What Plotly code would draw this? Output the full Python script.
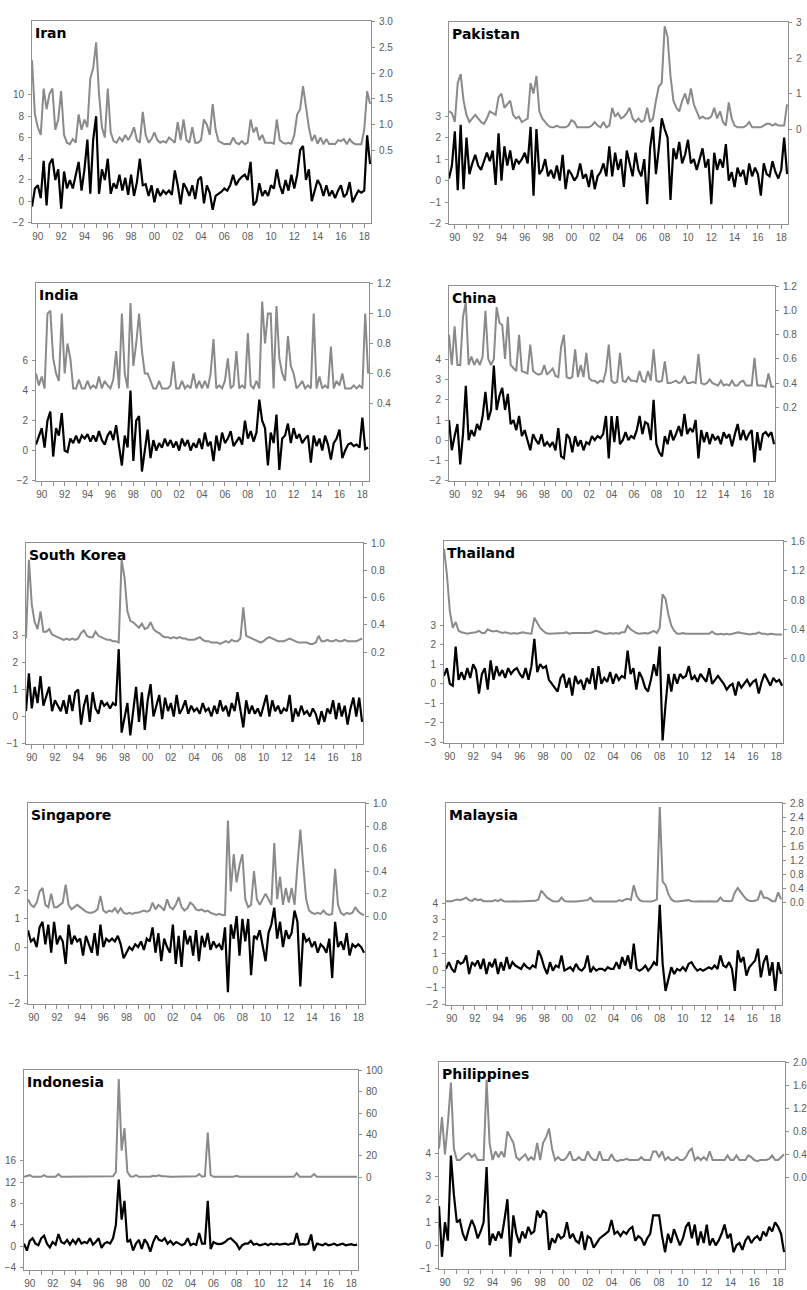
import plotly.graph_objects as go

W, H = 807, 1290
START_YEAR = 1989.5   # first observation
STEP = 0.25           # quarterly sampling

# ---------------- data (upper = grey, right axis; lower = black, left axis) ----------------
iran_upper = [2.25, 1.2,
 0.95, 0.8, 1.7, 1.3, 1.6, 1.7, 0.9, 1.1,
 1.65, 0.8, 0.65, 0.62, 0.72, 0.65, 1.2, 0.9,
 1.1, 0.95, 1.9, 2.1, 2.6, 1.6, 0.95, 0.75,
 1.7, 0.85, 0.68, 0.65, 0.75, 0.68, 0.8, 0.7,
 0.8, 0.95, 0.7, 0.65, 1.25, 0.8, 0.65, 0.72,
 0.85, 0.7, 0.65, 0.68, 0.65, 0.75, 0.7, 0.65,
 1.05, 0.7, 1.1, 0.7, 0.65, 0.95, 0.65, 0.65,
 0.7, 1.1, 1.0, 0.8, 1.4, 0.9, 0.68, 0.65,
 0.62, 0.63, 0.62, 0.75, 0.65, 0.62, 0.68, 0.62,
 0.65, 1.1, 0.85, 0.95, 0.7, 0.8, 0.65, 0.65,
 0.65, 0.63, 1.1, 0.7, 0.65, 0.63, 0.65, 0.63,
 0.8, 1.2, 1.3, 1.75, 1.3, 0.95, 0.68, 0.8,
 0.63, 0.75, 0.62, 0.72, 0.62, 0.63, 0.62, 0.7,
 0.68, 0.72, 0.62, 0.72, 0.65, 0.62, 0.62, 0.62,
 0.9, 1.65, 1.4]
iran_lower = [-0.5, 1.2,
 1.5, 0.3, 3.8, -0.4, 3.5, 4.0, 2.0, 3.0,
 -0.7, 2.8, 1.2, 2.0, 1.2, 2.5, 3.7, 1.0,
 3.0, 5.8, 0.7, 5.8, 8.0, 0.7, 3.0, 2.0,
 4.0, 0.7, 1.7, 1.2, 2.5, 1.0, 2.2, 0.6,
 2.5, 0.5, 1.8, 4.0, 1.5, 1.6, 0.5, 1.5,
 -0.1, 1.2, 0.5, 1.0, 0.7, 1.0, 0.6, 2.9,
 1.5, -0.3, 1.7, 1.2, 0.5, 1.5, 0.2, 2.0,
 2.3, -0.2, 1.5, 0.8, -0.8, 0.5, 0.7, 0.9,
 1.2, 1.0, 1.5, 2.5, 1.5, 2.0, 2.3, 2.5,
 2.0, 3.7, -0.4, 0.0, 1.7, 0.5, 1.0, 0.5,
 1.5, 1.2, 3.0, 1.5, 0.7, 2.0, 1.0, 2.5,
 1.2, 2.5, 4.8, 5.2, 2.0, 3.0, 0.0, 1.0,
 2.0, 1.5, 0.5, 1.5, 0.5, 1.0, 0.3, 1.0,
 1.5, 0.4, 0.7, 1.8, -0.1, 0.5, 1.0, 0.8,
 1.0, 6.2, 3.5]

pak_upper = [0.5, 0.45,
 0.2, 1.3, 1.55, 0.8, 0.4, 0.2, 0.3, 0.4,
 0.3, 0.2, 0.15, 0.3, 0.5, 0.45, 0.4, 0.9,
 1.0, 0.6, 0.7, 0.8, 0.4, 0.3, 0.35, 0.2,
 0.25, 0.3, 1.3, 1.0, 1.5, 0.5, 0.3, 0.2,
 0.1, 0.05, 0.05, 0.1, 0.05, 0.05, 0.05, 0.1,
 0.25, 0.2, 0.05, 0.05, 0.05, 0.05, 0.05, 0.1,
 0.2, 0.1, 0.05, 0.2, 0.05, 0.1, 0.6, 0.35,
 0.45, 0.3, 0.35, 0.45, 0.6, 0.3, 0.2, 0.3,
 0.2, 0.25, 0.6, 0.2, 0.3, 0.8, 1.2, 1.3,
 2.9, 2.6, 1.5, 0.8, 0.6, 0.5, 0.8, 1.0,
 0.7, 1.15, 0.7, 0.5, 0.3, 0.35, 0.3, 0.3,
 0.35, 0.6, 0.3, 0.5, 0.2, 0.1, 0.75, 0.3,
 0.1, 0.05, 0.05, 0.05, 0.1, 0.2, 0.05, 0.05,
 0.05, 0.05, 0.1, 0.15, 0.15, 0.1, 0.15, 0.1,
 0.1, 0.1, 0.7]
pak_lower = [0.1, 0.7,
 2.3, -0.45, 2.6, -0.4, 2.0, 0.3, 0.8, 1.2,
 0.7, 0.5, 0.9, 1.3, 0.9, 1.4, -0.2, 2.2,
 0.0, 1.6, 0.7, 1.4, 0.5, 1.0, 0.8, 1.0,
 1.3, 0.8, 2.5, -0.7, 2.4, 0.3, 0.5, 1.0,
 0.2, 0.5, 0.1, 0.7, 0.0, 1.2, -0.4, 0.5,
 0.3, 0.0, 0.2, 0.8, 0.1, 0.3, -0.3, 0.5,
 -0.4, 0.2, 0.4, 0.8, 0.2, 1.6, 0.2, 1.3,
 0.5, 1.0, -0.3, 1.4, 0.8, 0.2, 1.3, 0.5,
 0.2, 1.0, -1.1, 1.5, 2.5, 0.3, 1.5, 2.9,
 2.4, 2.0, -0.9, 1.5, 1.0, 1.8, 0.8, 1.2,
 1.9, 0.8, 1.0, 0.5, 1.0, 1.5, 0.6, 1.0,
 -1.1, 1.3, 0.5, 1.0, 0.6, 1.7, 0.0, 0.4,
 -0.3, 0.6, 0.2, 0.5, -0.2, 0.8, 0.2, 0.6,
 0.3, -0.7, 0.8, 0.3, 0.2, 0.9, 0.4, 0.1,
 0.5, 2.0, 0.3]

india_upper = [0.6, 0.52,
 0.58, 0.5, 1.0, 1.02, 0.7, 0.6, 0.55, 1.0,
 0.6, 0.8, 0.7, 0.5, 0.5, 0.56, 0.5, 0.5,
 0.55, 0.5, 0.52, 0.5, 0.58, 0.5, 0.55, 0.52,
 0.5, 0.56, 0.75, 0.5, 1.0, 0.6, 0.5, 1.07,
 0.65, 0.8, 1.0, 0.75, 0.6, 0.6, 0.55, 0.5,
 0.5, 0.55, 0.5, 0.5, 0.5, 0.52, 0.68, 0.5,
 0.5, 0.55, 0.5, 0.52, 0.5, 0.6, 0.5, 0.55,
 0.5, 0.55, 0.5, 0.6, 0.83, 0.5, 0.52, 0.5,
 0.55, 0.7, 0.5, 0.52, 0.75, 0.5, 0.52, 0.5,
 0.87, 0.52, 0.5, 0.55, 0.5, 1.08, 0.8, 1.0,
 1.0, 0.5, 1.05, 0.7, 0.6, 0.55, 0.85, 0.65,
 0.6, 0.5, 0.52, 0.55, 0.5, 0.52, 0.5, 1.0,
 0.5, 0.58, 0.5, 0.52, 0.5, 0.78, 0.5, 0.55,
 0.52, 0.6, 0.5, 0.5, 0.5, 0.52, 0.5, 0.52,
 0.5, 1.0, 0.6]
india_lower = [0.4, 1.0,
 1.5, 0.2, 2.0, 2.6, -0.4, 1.5, 1.0, 2.5,
 0.0, -0.1, 0.8, 0.5, 1.0, 0.5, 1.0, 0.8,
 1.1, 0.6, 1.0, 0.6, 1.3, 0.7, 0.4, 1.0,
 1.3, 0.7, 1.7, 0.3, -1.0, 1.0, 0.2, 4.0,
 -0.7, 2.0, 2.3, -1.4, 0.2, 1.4, -0.5, 0.7,
 0.0, 0.5, 0.2, 0.8, 0.3, 0.7, 0.2, 0.6,
 0.0, 0.8, 0.3, 0.7, 0.0, 0.5, 0.2, 0.8,
 0.1, 1.2, 0.3, 0.6, -0.7, 1.0, 0.0, 1.2,
 0.5, 0.8, 1.3, 0.3, 0.6, 0.9, 0.4, 2.0,
 0.8, 1.3, 0.6, 1.2, 3.4, 2.0, 1.5, -1.0,
 1.2, 0.5, 2.4, -1.3, 0.8, 1.0, 1.8, 0.5,
 1.5, 0.8, 1.1, 0.5, 0.8, 1.0, -0.8, 1.0,
 0.3, 0.8, 0.0, 1.0, 0.4, -0.6, 0.5, 0.8,
 1.4, -0.5, 0.0, 0.4, 0.5, 0.3, 0.4, 0.2,
 2.2, 0.1, 0.2]

china_upper = [0.8, 0.55,
 0.87, 0.55, 0.55, 0.95, 1.07, 0.55, 0.62, 0.55,
 0.6, 0.55, 0.62, 1.0, 0.6, 0.55, 0.6, 1.03,
 0.9, 0.88, 0.6, 0.95, 0.55, 0.52, 0.5, 0.8,
 0.5, 0.49, 0.48, 0.72, 0.5, 0.48, 0.47, 0.48,
 0.55, 0.47, 0.5, 0.52, 0.46, 0.45, 0.7, 0.8,
 0.45, 0.44, 0.45, 0.68, 0.45, 0.55, 0.45, 0.65,
 0.44, 0.42, 0.42, 0.4, 0.42, 0.41, 0.5, 0.72,
 0.42, 0.4, 0.41, 0.65, 0.42, 0.41, 0.45, 0.42,
 0.42, 0.41, 0.5, 0.42, 0.41, 0.5, 0.42, 0.68,
 0.42, 0.41, 0.42, 0.58, 0.4, 0.4, 0.41, 0.42,
 0.4, 0.41, 0.46, 0.4, 0.4, 0.41, 0.4, 0.64,
 0.4, 0.39, 0.4, 0.43, 0.4, 0.39, 0.38, 0.42,
 0.38, 0.39, 0.38, 0.42, 0.38, 0.38, 0.41, 0.42,
 0.38, 0.38, 0.38, 0.61, 0.38, 0.38, 0.38, 0.37,
 0.48, 0.37, 0.37]
china_lower = [1.0, -0.5,
 0.2, 0.8, -1.2, 0.3, 2.7, 0.0, 0.5, 0.2,
 0.8, 0.5, 1.2, 2.4, 1.0, 1.5, 3.7, 1.5,
 2.2, 2.6, 1.5, 2.3, 0.8, 1.0, 0.5, 1.2,
 0.2, 0.5, 0.0, -0.5, 0.3, 0.0, -0.2, 0.3,
 -0.3, -0.1, -0.3, -0.1, -0.5, 0.6, -0.8, -0.9,
 0.3, 0.1, -0.6, 0.2, -0.3, 0.0, -0.5, -0.1,
 -0.2, 0.2, 0.0, 0.2, 0.1, 0.3, 1.2, -0.9,
 1.2, -0.1, 1.2, -0.2, 0.0, 0.4, 0.0, 0.2,
 0.1, 0.5, 1.2, 0.3, 0.9, 0.8, 0.0, 2.0,
 -0.2, -0.6, -0.8, 0.2, -0.2, 0.5, 0.0, 0.3,
 0.7, 0.2, 1.3, 0.3, 0.6, 0.4, 1.0, -0.9,
 0.5, -0.1, 0.4, -0.2, 0.3, 0.0, 0.2, -0.2,
 0.4, 0.1, 0.3, -0.3, 0.3, 0.8, 0.0, 0.5,
 0.0, 0.3, 0.5, -1.1, 0.4, -0.5, 0.3, 0.4,
 0.2, 0.4, -0.2]

korea_upper = [0.3, 0.88,
 0.55, 0.42, 0.37, 0.5, 0.35, 0.35, 0.37, 0.33,
 0.32, 0.31, 0.3, 0.29, 0.3, 0.29, 0.3, 0.29,
 0.3, 0.34, 0.36, 0.32, 0.31, 0.31, 0.35, 0.32,
 0.31, 0.3, 0.29, 0.29, 0.28, 0.28, 0.27, 0.88,
 0.75, 0.5, 0.43, 0.42, 0.4, 0.38, 0.41, 0.37,
 0.38, 0.42, 0.37, 0.35, 0.34, 0.32, 0.31, 0.31,
 0.3, 0.31, 0.3, 0.31, 0.3, 0.3, 0.29, 0.29,
 0.29, 0.3, 0.31, 0.29, 0.28, 0.28, 0.27, 0.27,
 0.27, 0.26, 0.27, 0.28, 0.27, 0.29, 0.28, 0.28,
 0.3, 0.53, 0.32, 0.31, 0.3, 0.29, 0.28, 0.27,
 0.28, 0.3, 0.31, 0.3, 0.29, 0.28, 0.28, 0.28,
 0.29, 0.3, 0.29, 0.28, 0.27, 0.27, 0.27, 0.27,
 0.26, 0.26, 0.27, 0.32, 0.28, 0.28, 0.29, 0.28,
 0.28, 0.29, 0.28, 0.28, 0.29, 0.28, 0.28, 0.28,
 0.28, 0.29, 0.3]
korea_lower = [0.2, 1.6,
 0.3, 1.1, 0.5, 1.5, 0.4, 0.8, 1.1, 0.2,
 0.6, 0.4, 0.2, 0.6, 0.1, 0.8, 0.2, 0.9,
 1.0, -0.3, 0.4, 0.8, -0.2, 0.9, 0.3, 0.1,
 0.6, 0.4, 0.5, 0.3, 0.5, 0.4, 2.5, -0.6,
 0.0, 0.5, -0.7, 0.3, 1.1, -0.2, 0.9, -0.5,
 0.6, 1.2, 0.0, 0.4, 0.8, -0.1, 0.7, 0.2,
 0.5, 0.0, 0.8, 0.1, 0.3, 0.6, 0.1, 0.4,
 0.2, 0.3, 0.1, 0.5, 0.2, 0.3, 0.0, 0.4,
 0.1, 0.6, 0.2, 0.4, 0.0, 0.5, 0.2, 0.9,
 0.3, -0.4, 0.6, 0.1, 0.4, 0.1, 0.3, 0.0,
 0.4, 0.8, 0.0, 0.6, 0.2, 0.4, 0.1, 0.3,
 0.2, 0.8, -0.2, 0.3, 0.0, 0.4, 0.1, 0.2,
 0.0, 0.3, 0.1, -0.3, 0.2, -0.2, 0.3, 0.1,
 0.6, -0.1, 0.5, 0.0, 0.4, -0.3, 0.3, 0.7,
 0.0, 0.7, -0.2]

thai_upper = [1.5, 1.15,
 0.65, 0.42, 0.5, 0.38, 0.36, 0.35, 0.34, 0.35,
 0.35, 0.36, 0.38, 0.35, 0.35, 0.4, 0.38, 0.37,
 0.38, 0.36, 0.35, 0.36, 0.35, 0.34, 0.35, 0.34,
 0.35, 0.36, 0.35, 0.34, 0.34, 0.56, 0.48, 0.42,
 0.38, 0.35, 0.34, 0.34, 0.35, 0.34, 0.34, 0.35,
 0.36, 0.34, 0.35, 0.35, 0.34, 0.35, 0.34, 0.35,
 0.35, 0.36, 0.38, 0.37, 0.35, 0.34, 0.34, 0.35,
 0.34, 0.35, 0.34, 0.36, 0.36, 0.45, 0.4, 0.37,
 0.35, 0.34, 0.35, 0.35, 0.34, 0.36, 0.38, 0.35,
 0.42, 0.88, 0.82, 0.6, 0.45, 0.38, 0.34, 0.34,
 0.35, 0.34, 0.34, 0.34, 0.33, 0.34, 0.34, 0.33,
 0.34, 0.34, 0.37, 0.34, 0.33, 0.34, 0.33, 0.34,
 0.33, 0.34, 0.34, 0.36, 0.35, 0.34, 0.34, 0.33,
 0.34, 0.34, 0.36, 0.34, 0.34, 0.33, 0.34, 0.33,
 0.33, 0.33, 0.33]
thai_lower = [0.4, 0.8,
 0.0, -0.1, 1.9, 0.2, 0.6, 0.2, 0.8, 0.3,
 1.0, 0.7, -0.5, 0.5, 0.8, -0.3, 1.2, 0.2,
 0.9, 0.4, 0.7, 0.3, 0.8, 0.5, 0.7, 0.8,
 0.5, 0.3, 0.8, 0.2, 0.9, 2.3, 0.6, 1.0,
 0.8, 0.9, 0.2, 0.0, -0.2, -0.4, 0.3, 0.5,
 -0.2, 0.3, -0.6, 0.4, 0.0, 0.2, -0.3, 0.3,
 0.0, 0.8, -0.3, 0.9, 0.0, 0.3, 0.1, 0.6,
 0.0, 0.5, 0.2, 0.4, 0.3, 1.7, 0.5, 0.8,
 -0.3, 0.6, 0.3, -0.2, -0.4, 0.2, 1.0, 0.4,
 1.9, -2.9, -1.1, 0.5, -0.4, 0.5, 0.0, 0.5,
 0.3, 0.4, 0.9, 0.2, 0.4, 0.1, 0.5, 0.3,
 0.1, 0.8, 0.0, 0.2, 0.4, 0.2, 0.0, -0.3,
 -0.1, 0.0, -0.6, 0.1, -0.2, 0.0, 0.2, -0.1,
 0.1, 0.2, -0.5, 0.1, 0.5, 0.2, -0.1, 0.3,
 0.1, 0.2, -0.1]

sing_upper = [0.15, 0.1,
 0.08, 0.12, 0.22, 0.25, 0.1, 0.08, 0.2, 0.08,
 0.08, 0.1, 0.12, 0.28, 0.1, 0.06, 0.08, 0.1,
 0.08, 0.06, 0.04, 0.03, 0.03, 0.04, 0.06, 0.18,
 0.05, 0.03, 0.05, 0.04, 0.07, 0.03, 0.07, 0.03,
 0.02, 0.03, 0.02, 0.03, 0.03, 0.04, 0.05, 0.04,
 0.05, 0.12, 0.06, 0.1, 0.08, 0.05, 0.15, 0.08,
 0.06, 0.1, 0.17, 0.08, 0.05, 0.07, 0.12, 0.1,
 0.06, 0.05, 0.06, 0.04, 0.05, 0.03, 0.02, 0.01,
 0.02, 0.01, 0.01, 0.85, 0.22, 0.55, 0.3, 0.45,
 0.55, 0.15, 0.08, 0.1, 0.4, 0.15, 0.1, 0.15,
 0.2, 0.15, 0.1, 0.65, 0.15, 0.35, 0.1, 0.25,
 0.12, 0.25, 0.1, 0.45, 0.77, 0.45, 0.15, 0.05,
 0.03, 0.02, 0.03, 0.02, 0.05, 0.02, 0.01, 0.02,
 0.42, 0.1, 0.03, 0.01, 0.03, 0.02, 0.03, 0.08,
 0.04, 0.02, 0.01]
sing_lower = [0.6, 0.2,
 0.3, 0.0, 0.7, 0.9, 0.1, 0.8, -0.2, 0.9,
 0.1, 0.4, 0.2, -0.6, 0.8, 0.1, 0.4, 0.2,
 0.3, -0.3, 0.4, 0.1, -0.2, 0.5, -0.3, 0.8,
 0.0, 0.3, 0.2, 0.3, 0.2, 0.4, 0.1, -0.4,
 -0.2, 0.0, -0.1, 0.1, 0.0, 0.2, -0.1, 0.3,
 0.2, 0.7, -0.2, 0.5, -0.5, 0.3, 0.0, -0.2,
 0.8, -0.6, 0.4, -0.7, 0.6, 0.1, 0.4, -0.3,
 0.6, -0.5, 0.4, 0.0, 0.5, -0.1, 0.2, 0.0,
 0.1, -0.1, 0.7, -1.6, 0.8, 0.3, 1.1, -0.3,
 1.0, 0.2, 1.0, -1.0, 0.4, 0.3, 0.6, 0.0,
 -0.5, 0.5, 0.8, 1.4, 0.3, 0.9, 0.0, 0.6,
 0.3, 0.5, 1.3, 0.9, -1.4, 0.5, 0.2, 0.3,
 0.0, 0.2, -0.2, 0.1, 0.0, -0.2, 0.3, -1.1,
 0.9, 0.0, 0.2, -0.1, 0.5, -0.3, 0.1, 0.0,
 0.1, 0.0, -0.2]

malay_upper = [0.05, 0.05,
 0.05, 0.08, 0.1, 0.08, 0.12, 0.15, 0.08, 0.06,
 0.12, 0.08, 0.1, 0.05, 0.05, 0.04, 0.05, 0.08,
 0.05, 0.1, 0.05, 0.04, 0.05, 0.04, 0.05, 0.04,
 0.04, 0.05, 0.04, 0.05, 0.04, 0.06, 0.1, 0.35,
 0.25, 0.15, 0.1, 0.05, 0.04, 0.05, 0.15, 0.06,
 0.04, 0.05, 0.04, 0.04, 0.05, 0.04, 0.05, 0.08,
 0.15, 0.05, 0.04, 0.04, 0.04, 0.05, 0.04, 0.04,
 0.05, 0.04, 0.08, 0.05, 0.1, 0.12, 0.08, 0.5,
 0.2, 0.08, 0.05, 0.04, 0.05, 0.04, 0.06, 0.1,
 2.7, 0.6, 0.5, 0.25, 0.1, 0.05, 0.04, 0.05,
 0.04, 0.05, 0.08, 0.05, 0.04, 0.04, 0.05, 0.04,
 0.04, 0.05, 0.04, 0.04, 0.05, 0.15, 0.06, 0.05,
 0.05, 0.06, 0.3, 0.42, 0.3, 0.2, 0.1, 0.06,
 0.05, 0.06, 0.1, 0.35, 0.15, 0.15, 0.1, 0.05,
 0.05, 0.3, 0.1]
malay_lower = [0.1, 0.5,
 0.1, -0.1, 0.6, 0.4, 0.5, 0.9, -0.2, 0.5,
 0.3, 0.6, 0.1, 0.7, -0.2, 0.5, 0.2, 0.7,
 -0.2, 0.5, 0.0, 0.8, 0.1, 0.5, 0.3, 0.2,
 0.1, 0.4, 0.2, 0.1, 0.3, 0.2, 1.2, 0.8,
 0.2, -0.2, 0.5, 0.0, 0.3, 0.2, 0.9, 0.0,
 0.1, 0.2, 0.0, 0.4, 0.1, 0.0, 0.2, 0.9,
 -0.1, 0.2, 0.0, 0.1, 0.1, 0.0, 0.2, 0.1,
 0.1, 0.5, 0.1, 0.8, 0.3, 0.9, 0.1, 1.6,
 0.1, 0.0, 0.1, 0.3, 0.0, 0.2, 0.5, 0.3,
 3.9, 0.4, -1.2, -0.5, 0.2, -0.2, 0.1, 0.0,
 0.2, 0.0, 0.4, 0.5, 0.2, 0.0, 0.1, 0.0,
 0.1, 0.2, 0.1, 0.3, 0.1, 0.9, 0.3, 0.2,
 0.5, 0.1, -1.2, 1.2, 0.5, 0.8, -0.3, 0.2,
 0.4, 0.6, 1.3, -0.4, 0.5, 0.9, -0.3, 0.5,
 -1.2, 0.5, -0.2]

indo_upper = [0.5, 1,
 2, 0.5, 0.5, 0.5, 0.5, 2, 0.5, 0.5,
 0.5, 0.5, 3, 0.5, 0.5, 0.5, 0.5, 0.5,
 0.5, 0.5, 0.5, 0.5, 1, 0.5, 0.5, 1,
 0.5, 0.5, 0.5, 0.5, 0.5, 1, 5, 92,
 25, 46, 5, 1, 0.5, 2, 0.5, 0.5,
 0.5, 1, 0.5, 1.5, 1, 2, 1, 1,
 0.5, 0.5, 0.5, 0.5, 0.5, 0.5, 0.5, 0.5,
 0.5, 0.5, 1, 3, 0.5, 1, 42, 2,
 0.5, 0.5, 0.5, 0.5, 0.5, 0.5, 0.5, 0.5,
 1.5, 0.5, 0.5, 0.5, 0.5, 0.5, 0.5, 0.5,
 0.5, 0.5, 0.5, 0.5, 0.5, 0.5, 0.5, 0.5,
 0.5, 0.5, 0.5, 0.5, 0.5, 4, 0.5, 0.5,
 0.5, 0.5, 0.5, 3, 0.5, 0.5, 0.5, 0.5,
 0.5, 0.5, 0.5, 0.5, 0.5, 0.5, 0.5, 0.5,
 0.5, 0.5, 0.5]
indo_lower = [0.5, -0.8,
 1.0, 1.5, 0.5, 0.2, 1.5, 2.0, 0.5, -0.2,
 0.8, 0.3, 2.3, 0.8, 0.5, 1.2, 0.3, 1.2,
 0.5, 1.5, 0.5, 0.8, 0.6, 1.5, 0.3, 0.8,
 1.5, -0.3, 0.5, 0.8, 0.5, 1.5, 4.0, 12.5,
 5.0, 8.5, 0.8, 1.2, -0.8, 0.5, 1.2, -0.5,
 1.3, 0.5, -1.0, 0.8, 2.0, 1.2, 1.0, 1.5,
 0.5, 1.0, 0.3, 0.8, 0.5, 0.2, 0.5, 1.5,
 0.2, 0.5, 0.3, 2.5, 0.5, 0.5, 8.5, -0.5,
 0.8, 0.5, 0.4, 0.5, 0.8, 1.3, 1.5, 1.0,
 0.5, -0.5, 0.2, 0.5, 0.5, 1.0, 0.3, 0.5,
 0.2, 0.3, 0.5, 0.2, 0.5, 0.3, 0.5, 0.3,
 0.4, 0.5, 0.3, 0.5, 0.5, 2.5, 0.3, 0.4,
 0.3, 0.5, 2.2, -0.8, 0.5, 0.3, 0.2, 0.5,
 0.2, 0.3, 0.5, 0.2, 0.3, 0.5, 0.2, 0.3,
 0.4, 0.2, 0.3]

phil_upper = [0.5, 1.05,
 0.4, 0.95, 1.65, 0.5, 0.3, 0.3, 0.35, 0.4,
 0.42, 0.35, 0.4, 0.3, 0.3, 0.3, 1.7, 0.6,
 0.3, 0.45, 0.35, 0.45, 0.35, 0.8, 0.7, 0.6,
 0.35, 0.3, 0.35, 0.4, 0.3, 0.35, 0.3, 0.6,
 0.3, 0.6, 0.7, 0.85, 0.5, 0.3, 0.35, 0.3,
 0.3, 0.35, 0.45, 0.3, 0.3, 0.35, 0.3, 0.3,
 0.45, 0.35, 0.3, 0.3, 0.45, 0.3, 0.3, 0.3,
 0.4, 0.3, 0.28, 0.3, 0.3, 0.32, 0.3, 0.3,
 0.3, 0.3, 0.35, 0.3, 0.3, 0.3, 0.45, 0.45,
 0.35, 0.45, 0.3, 0.35, 0.3, 0.3, 0.35, 0.3,
 0.3, 0.35, 0.45, 0.5, 0.3, 0.35, 0.3, 0.35,
 0.3, 0.45, 0.3, 0.3, 0.3, 0.3, 0.3, 0.38,
 0.3, 0.3, 0.38, 0.3, 0.3, 0.3, 0.38, 0.35,
 0.3, 0.28, 0.3, 0.3, 0.3, 0.32, 0.38, 0.3,
 0.3, 0.35, 0.4]
phil_lower = [1.7, -0.5,
 1.0, 0.2, 3.9, 2.2, 1.0, 1.1, 0.5, 0.2,
 0.7, 1.1, 0.8, 0.3, 0.6, 1.0, 3.4, 0.0,
 0.5, 0.2, 0.6, 0.3, 1.1, 2.0, -0.5, 1.3,
 0.5, 0.1, 0.6, 0.3, 0.8, 0.5, 0.6, 1.5,
 1.2, 1.5, 1.4, -0.2, 0.3, 0.1, 0.5, 0.3,
 0.4, 1.0, 0.3, 0.5, 0.2, 0.1, 0.6, -0.2,
 0.4, 0.3, -0.1, 0.1, 0.3, 0.4, 0.5, 0.6,
 1.1, 0.5, 0.6, 0.4, 0.6, 0.5, 0.7, 0.8,
 0.2, 0.4, 0.3, 0.0, 0.3, 0.5, 1.3, 1.3,
 1.3, 0.4, -0.3, 0.5, 0.1, 0.7, 0.3, 0.0,
 0.3, 0.8, 1.0, 0.3, 0.9, 0.0, 0.6, 0.1,
 0.9, 0.0, 0.3, 0.0, 0.2, 0.5, 0.9, 0.3,
 0.5, -0.3, 0.0, 0.1, -0.2, 0.2, 0.4, 0.1,
 0.3, 0.4, 0.2, 0.6, 0.4, 0.8, 0.6, 1.0,
 0.8, 0.5, -0.3]

country_names = ["Iran", "Pakistan", "India", "China", "South Korea",
                 "Thailand", "Singapore", "Malaysia", "Indonesia", "Philippines"]
upper_series = [iran_upper, pak_upper, india_upper, china_upper, korea_upper,
                thai_upper, sing_upper, malay_upper, indo_upper, phil_upper]
lower_series = [iran_lower, pak_lower, india_lower, china_lower, korea_lower,
                thai_lower, sing_lower, malay_lower, indo_lower, phil_lower]

x_label_years = list(range(1990, 2019, 2))
x_label_text = ["%02d" % (y % 100) for y in x_label_years]
x_minor_years = list(range(1991, 2019, 2))

left_ticks = [[-2, 0, 2, 4, 6, 8, 10], [-2, -1, 0, 1, 2, 3], [-2, 0, 2, 4, 6],
              [-2, -1, 0, 1, 2, 3, 4], [-1, 0, 1, 2, 3], [-3, -2, -1, 0, 1, 2, 3],
              [-2, -1, 0, 1, 2], [-2, -1, 0, 1, 2, 3, 4], [-4, 0, 4, 8, 12, 16],
              [-1, 0, 1, 2, 3, 4]]
right_ticks = [[0.5, 1.0, 1.5, 2.0, 2.5, 3.0], [0, 1, 2, 3], [0.4, 0.6, 0.8, 1.0, 1.2],
               [0.2, 0.4, 0.6, 0.8, 1.0, 1.2], [0.2, 0.4, 0.6, 0.8, 1.0],
               [0.0, 0.4, 0.8, 1.2, 1.6], [0.0, 0.2, 0.4, 0.6, 0.8, 1.0],
               [0.0, 0.4, 0.8, 1.2, 1.6, 2.0, 2.4, 2.8], [0, 20, 40, 60, 80, 100],
               [0.0, 0.4, 0.8, 1.2, 1.6, 2.0]]

# ---------------- layout settings (pixel frames, axis ranges, formats) ----------------
frames = [(32, 16, 371, 220), (449, 17, 788, 221), (36, 280, 369, 480), (449, 283, 775, 480),
          (26, 542, 363, 745), (444, 540, 783, 744), (28, 804, 365, 1007), (446, 804, 782, 1008),
          (24, 1073, 358, 1275), (439, 1065, 785, 1274)]
left_ranges = [(-2, 16.9), (-2, 7.36), (-2, 11.15), (-2, 7.62), (-1, 6.42),
               (-3, 7.27), (-2, 5.1), (-2, 9.89), (-4.31, 32.9), (-1, 7.94)]
right_ranges = [(-0.9, 3.0), (-2.66, 3.0), (-0.115, 1.2), (-0.407, 1.2), (-0.474, 1.0),
                (-1.147, 1.6), (-0.775, 1.0), (-2.856, 2.8), (-86.1, 100), (-1.588, 2.0)]
right_formats = [".1f", "d", ".1f", ".1f", ".1f", ".1f", ".1f", ".1f", "d", ".1f"]

X_RANGE = [1989.5, 2018.58]
GREY = "#8a8a8a"
FRAME = "#8f8f8f"
TICKFONT = dict(family="Liberation Sans, Arial, sans-serif", size=10, color="#5a5a5a")


def padded(r):
    span = r[1] - r[0]
    return [r[0] - 0.004 * span, r[1] + 0.004 * span]


fig = go.Figure()
layout = dict(width=W, height=H, margin=dict(l=0, r=0, t=0, b=0),
              paper_bgcolor="white", plot_bgcolor="white", showlegend=False)
annotations = []

for p in range(10):
    L, T, R, B = frames[p]
    xn, yl, yr = p + 1, 2 * p + 1, 2 * p + 2
    xid = "x" if xn == 1 else "x%d" % xn
    ylid = "y" if yl == 1 else "y%d" % yl
    yrid = "y%d" % yr
    xkey = "xaxis" if xn == 1 else "xaxis%d" % xn
    ylkey = "yaxis" if yl == 1 else "yaxis%d" % yl
    yrkey = "yaxis%d" % yr

    lower = lower_series[p]
    upper = upper_series[p]
    fig.add_trace(go.Scatter(x=[START_YEAR + STEP * i for i in range(len(lower))], y=lower,
                             xaxis=xid, yaxis=ylid, mode="lines",
                             line=dict(color="black", width=2.2), hoverinfo="skip"))
    fig.add_trace(go.Scatter(x=[START_YEAR + STEP * i for i in range(len(upper))], y=upper,
                             xaxis=xid, yaxis=yrid, mode="lines",
                             line=dict(color=GREY, width=2), hoverinfo="skip"))

    layout[xkey] = dict(domain=[L / W, R / W], anchor=ylid, range=X_RANGE,
                        tickmode="array", tickvals=x_label_years, ticktext=x_label_text,
                        ticks="outside", ticklen=4, tickwidth=1, tickcolor=FRAME,
                        minor=dict(tickmode="array", tickvals=x_minor_years, ticks="outside",
                                   ticklen=4, tickwidth=1, tickcolor=FRAME),
                        showline=True, linecolor=FRAME, linewidth=1, mirror=True,
                        showgrid=False, zeroline=False, tickfont=TICKFONT,
                        fixedrange=True)
    layout[ylkey] = dict(domain=[1 - B / H, 1 - T / H], anchor=xid, range=padded(left_ranges[p]),
                         tickmode="array", tickvals=left_ticks[p],
                         ticks="outside", ticklen=3, tickwidth=1, tickcolor=FRAME,
                         showline=True, linecolor=FRAME, linewidth=1,
                         showgrid=False, zeroline=False, tickfont=TICKFONT,
                         ticklabelstandoff=2, fixedrange=True)
    layout[yrkey] = dict(overlaying=ylid, side="right", anchor=xid, range=padded(right_ranges[p]),
                         tickmode="array", tickvals=right_ticks[p], tickformat=right_formats[p],
                         ticks="outside", ticklen=3, tickwidth=1, tickcolor=FRAME,
                         showline=True, linecolor=FRAME, linewidth=1,
                         showgrid=False, zeroline=False, tickfont=TICKFONT,
                         ticklabelstandoff=2, fixedrange=True)
    annotations.append(dict(text="<b>%s</b>" % country_names[p], xref="paper", yref="paper",
                            x=(L + 1) / W, y=1 - (T + 2) / H, xanchor="left", yanchor="top",
                            showarrow=False,
                            font=dict(family="DejaVu Sans, Arial, sans-serif", size=14,
                                      color="black")))

layout["annotations"] = annotations
fig.update_layout(**layout)
fig.write_html("out.html",
               config={"displayModeBar": False, "staticPlot": True},
               post_script="document.body.style.margin='0';document.body.style.padding='0';"
                           "document.body.style.overflow='hidden';")
